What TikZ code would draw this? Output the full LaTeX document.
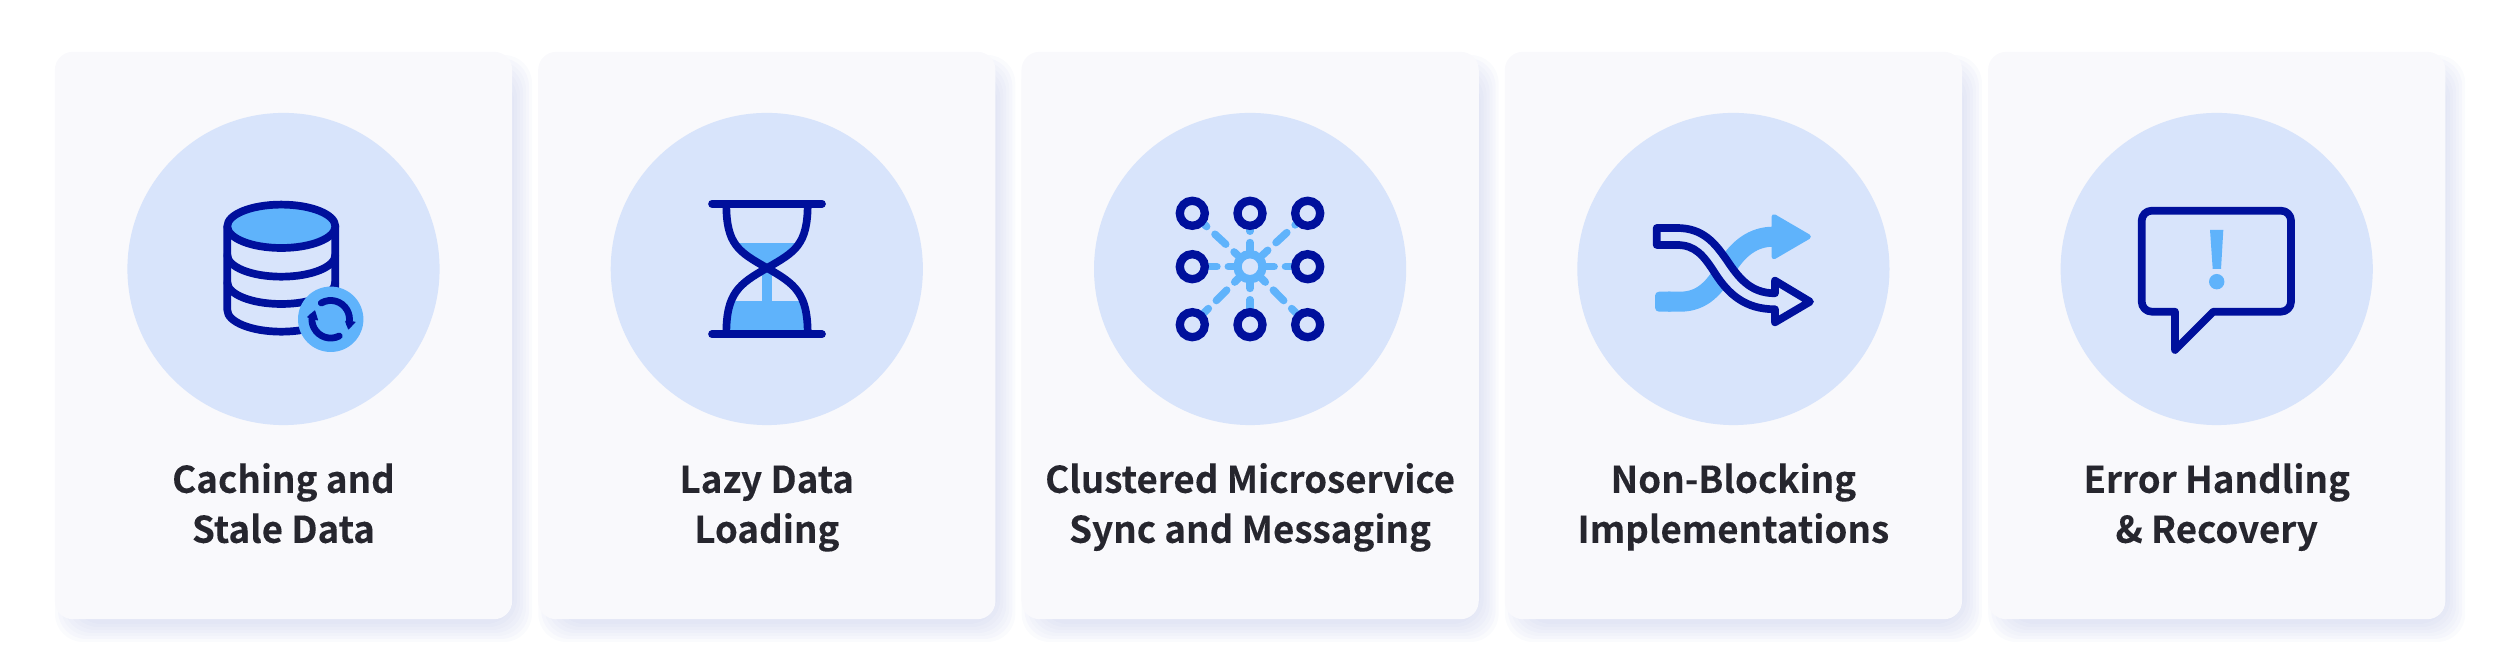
\documentclass[tikz,border=0pt]{standalone}
\usepackage{fontspec}
\newfontfamily\cardfont{Noto Sans CJK SC}[BoldFont={Noto Sans CJK SC Bold}, BoldFeatures={FakeBold=0.12}]
\definecolor{cardbg}{HTML}{F9F9FC}
\definecolor{cardshade}{HTML}{B9C1E6}
\definecolor{discbg}{HTML}{D8E4FB}
\definecolor{icondark}{HTML}{00109C}
\definecolor{iconlight}{HTML}{5FB3FB}
\definecolor{labelink}{HTML}{26262E}
\tikzset{
	card/.style={rectangle, fill=cardbg, rounded corners=0.18cm, minimum width=4.57cm, minimum height=5.67cm, inner sep=0pt},
	shade/.style={fill=cardshade, opacity=0.07, rounded corners=0.28cm},
	disc/.style={circle, fill=discbg, minimum size=3.12cm, inner sep=0pt},
	cardlabel/.style={align=center, inner sep=0pt, text=labelink, font=\fontsize{10.45}{14.22}\cardfont\bfseries},
	darkline/.style={draw=icondark, line width=0.077cm, line join=round, line cap=round},
	gridring/.style={circle, draw=icondark, fill=discbg, line width=0.083cm, minimum size=0.25cm, inner sep=0pt},
	gearhub/.style={circle, draw=iconlight, fill=discbg, line width=0.083cm, minimum size=0.25cm, inner sep=0pt},
	spoke/.style={draw=iconlight, line width=0.075cm, line cap=round, dash pattern=on 4.18pt off 3.22pt}
}
\begin{document}
\begin{tikzpicture}[x=0.01cm, y=-0.01cm]
\useasboundingbox (0,0) rectangle (2500,662);

\foreach \i/\cx/\lab in {
1/283.5/{Caching and\\Stale Data}%
,2/766.8/{Lazy Data\\Loading}%
,3/1250.1/{Clustered Microservice\\Sync and Messaging}%
,4/1733.4/{Non-Blocking\\Implementations}%
,5/2216.7/{Error Handling\\\& Recovery}%
}{
	\foreach \g in {-8,-5,...,12}{
		\fill[shade] ({\cx-228.5+10-\g},{52+13-\g}) rectangle ({\cx+228.5+10+\g},{619+13+\g});
	}
	\node[card](card\i) at(\cx,335.5) {};
	\node[disc](disc\i) at(\cx,269) {};
	\node[cardlabel](label\i) at(\cx,507.8) {\strut\lab\strut};
}

% database
\begin{scope}[shift={(283.5,0)}]
\draw[darkline] (-56.2,226.3) -- (-56.2,310) arc[start angle=180, end angle=0, x radius=54, y radius=21.7] -- (51.8,226.3);
\foreach \y in {255,282.3}{
	\draw[darkline] (-56.2,\y) arc[start angle=180, end angle=0, x radius=54, y radius=21.7];
}
\draw[darkline, fill=iconlight] (-2.2,226.3) ellipse[x radius=54, y radius=21.7];
\fill[iconlight] (47.2,319.3) circle(32.7);
\draw[icondark, line width=0.068cm, line cap=round] (47.2,319.3) ++(-120:18.8) arc[start angle=-120, end angle=12, radius=18.8];
\draw[icondark, line width=0.068cm, line cap=round] (47.2,319.3) ++(63:18.8) arc[start angle=63, end angle=188, radius=18.8];
\fill[icondark, rounded corners=0.2pt] (61.5,320.7) -- (72.5,321.7) -- (64.8,330) -- cycle;
\fill[icondark, rounded corners=0.2pt] (23.2,317.3) -- (31.5,310) -- (34.8,320.7) -- cycle;
\end{scope}

% hourglass
\begin{scope}[shift={(767,0)}]
\begin{scope}
\clip (-42,244) rectangle (42,269);
\fill[iconlight] (-40.7,204) .. controls (-40.7,245) and (-28,252) .. (0,268) .. controls (28,252) and (40.7,245) .. (40.7,204) -- cycle;
\end{scope}
\fill[iconlight] (-5.3,268) rectangle (5.3,302);
\begin{scope}
\clip (-42,301.7) rectangle (42,334);
\fill[iconlight] (-40.7,334) .. controls (-40.7,293) and (-28,284) .. (0,268) .. controls (28,284) and (40.7,293) .. (40.7,334) -- cycle;
\end{scope}
\draw[darkline] (-40.7,204) .. controls (-40.7,245) and (-28,252) .. (0,268) .. controls (28,284) and (40.7,293) .. (40.7,334);
\draw[darkline] (40.7,204) .. controls (40.7,245) and (28,252) .. (0,268) .. controls (-28,284) and (-40.7,293) .. (-40.7,334);
\draw[darkline] (-55,203.7) -- (55,203.7);
\draw[darkline] (-55,334.3) -- (55,334.3);
\end{scope}

% grid of rings round a gear
\begin{scope}[shift={(1250,0)}]
\coordinate(hubc) at(0,266.7);
\foreach \j/\x/\y/\ph in {
1/-57.7/213.3/5.4,2/0/213.3/4.72,3/57.7/213.3/4.72%
,4/-57.7/266.7/5.4,6/57.7/266.7/4.72%
,7/-57.7/324.7/5.4,8/0/324.7/5.4,9/57.7/324.7/5.4%
}{
	\coordinate(p\j) at(\x,\y);
	\draw[spoke, dash phase=\ph pt] (hubc) -- (p\j);
	\node[gridring](ring\j) at(p\j) {};
}
\node[gearhub](hub) at(hubc) {};
\end{scope}

% crossing arrows
\begin{scope}[shift={(1734,0)}]
\fill[iconlight, rounded corners=0.04cm] (-79,291.7) rectangle (-60,311.7);
\draw[iconlight, line width=0.2cm] (-66,301.7) -- (-54,301.7) .. controls (-30.7,301.7) and (-19,286.7) .. (-7.3,267.3) .. controls (4.3,248.3) and (19.3,236.7) .. (39.3,236.7);
\draw[iconlight, fill=iconlight, line width=0.05cm, line join=round] (40,216.7) -- (74.3,236.7) -- (40,256.7) -- cycle;
\draw[darkline, fill=discbg] (-77.3,228) -- (-57.3,228) .. controls (-30.7,228) and (-19,243.3) .. (-7.3,260) .. controls (4.3,277.3) and (16,293.3) .. (41,293.3) -- (41,280.7) -- (76,301.7) -- (41,322.3) -- (41,309.3) .. controls (11,309.3) and (-5.7,294) .. (-19,273.3) .. controls (-30.7,255) and (-39,245) .. (-57.3,245) -- (-77.3,245) -- cycle;
\end{scope}

% speech bubble
\begin{scope}[shift={(2217.5,0)}]
\draw[darkline, rounded corners=0.1cm] (-75.8,260) -- (-75.8,210.7) -- (73.5,210.7) -- (73.5,311.7) [sharp corners] -- (-4.2,311.7) -- (-42.5,350) -- (-42.5,311.7) [rounded corners=0.1cm] -- (-75.8,311.7) -- cycle;
\fill[iconlight] (-7.5,230) -- (5.8,230) -- (3.5,269) -- (-4.8,269) -- cycle;
\fill[iconlight] (-0.8,281.7) circle(7.7);
\end{scope}

\end{tikzpicture}
\end{document}
